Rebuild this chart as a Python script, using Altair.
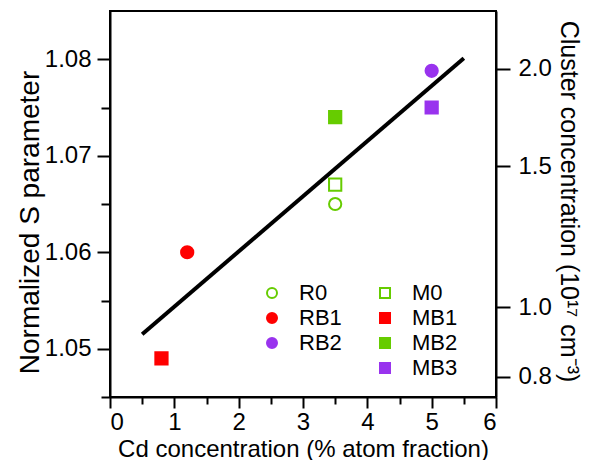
import altair as alt
import pandas as pd

# ---- data ----
series = ["R0", "RB1", "RB2", "M0", "MB1", "MB2", "MB3"]
cd = [3.5, 1.2, 5.0, 3.5, 0.8, 3.5, 5.0]
s_param = [1.065, 1.060, 1.0788, 1.067, 1.049, 1.074, 1.075]

fit_x = [0.5, 5.5]
fit_s = [1.0515, 1.0801]

x_major = [0, 1, 2, 3, 4, 5, 6]
x_minor = [0.5, 1.5, 2.5, 3.5, 4.5, 5.5]
y_major = [1.05, 1.06, 1.07, 1.08]
y_minor = [1.045, 1.055, 1.065, 1.075]

# right axis (cluster concentration) tick positions on the S scale and labels
right_pos = [1.07903, 1.06892, 1.05432, 1.04711]
right_lab = ["2.0", "1.5", "1.0", "0.8"]

# legend order (column-major in 2 columns; blank entry pushes MB3 to row 4 of column 2)
leg_domain = ["R0", "RB1", "RB2", " ", "M0", "MB1", "MB2", "MB3"]
GREEN, RED, PURPLE = "#66cc00", "#ff0000", "#9933ee"
leg_fill = ["white", RED, PURPLE, "transparent", "white", RED, GREEN, PURPLE]
leg_stroke = [GREEN, RED, PURPLE, "transparent", GREEN, RED, GREEN, PURPLE]
leg_shape = ["circle", "circle", "circle", "circle", "square", "square", "square", "square"]

pts = pd.DataFrame({"series": series, "cd": cd, "s": s_param})
fit = pd.DataFrame({"cd": fit_x, "s": fit_s})

XD = [0, 6]
YD = [1.045, 1.085]
xs = alt.Scale(domain=XD, nice=False, zero=False)
ys = alt.Scale(domain=YD, nice=False, zero=False)

label_expr = " : ".join(
    f"format(datum.value, '.5f') == '{p:.5f}' ? '{l}'" for p, l in zip(right_pos, right_lab)
) + " : ''"

legend = alt.Legend(
    title=None, orient="none", legendX=151, legendY=271, columns=2,
    labelFontSize=22, symbolSize=100, symbolStrokeWidth=2,
    labelOffset=16, columnPadding=32, rowPadding=3,
)

line = alt.Chart(fit).mark_line(color="black", strokeWidth=4).encode(
    x=alt.X("cd:Q", scale=xs, axis=alt.Axis(
        values=x_major, title="Cd concentration (% atom fraction)", format="d",
        tickSize=11, labelPadding=2, titleFontSize=24, titleX=193, titleY=52,
        titleBaseline="middle", titleAlign="center")),
    y=alt.Y("s:Q", scale=ys, axis=alt.Axis(
        values=y_major, format=".2f", title="Normalized S parameter", orient="left",
        tickSize=13, labelPadding=6, titleFontSize=28, titleX=-80, titleY=211,
        titleBaseline="middle", titleAlign="center", titleAngle=-90)),
)

points = alt.Chart(pts).mark_point(size=150, strokeWidth=2, opacity=1).encode(
    x=alt.X("cd:Q", scale=xs, axis=alt.Axis(
        orient="bottom", values=x_minor, labels=False, domain=False, tickSize=7, title=None)),
    y=alt.Y("s:Q", scale=ys, axis=alt.Axis(
        orient="right", values=right_pos, labelExpr=label_expr, tickSize=14, labelPadding=8,
        title="Cluster concentration (10¹⁷ cm⁻³)", titleFontSize=25, titleX=72, titleY=190,
        titleBaseline="middle", titleAlign="center", titleAngle=90)),
    fill=alt.Fill("series:N", scale=alt.Scale(domain=leg_domain, range=leg_fill), legend=legend),
    stroke=alt.Stroke("series:N", scale=alt.Scale(domain=leg_domain, range=leg_stroke), legend=legend),
    shape=alt.Shape("series:N", scale=alt.Scale(domain=leg_domain, range=leg_shape), legend=legend),
)

minor_y = alt.Chart(pts).mark_point(opacity=0).encode(
    x=alt.X("cd:Q", scale=xs, axis=None),
    y=alt.Y("s:Q", scale=ys, axis=alt.Axis(
        orient="left", values=y_minor, labels=False, domain=False, tickSize=9, title=None)),
)

chart = alt.layer(line, points, minor_y).resolve_axis(
    x="independent", y="independent"
).properties(
    width=386, height=386,
    autosize=alt.AutoSizeParams(type="none"),
    padding={"left": 102, "top": 3, "right": 95, "bottom": 63},
).configure(
    font="Liberation Sans",
).configure_view(
    stroke="black", strokeWidth=2,
).configure_axis(
    domainColor="black", domainWidth=2, tickColor="black", tickWidth=2,
    labelFontSize=24, labelColor="black", titleColor="black", titleFontWeight="normal",
    grid=False, labelFont="Liberation Sans", titleFont="Liberation Sans",
).configure_legend(
    labelColor="black", labelFont="Liberation Sans",
)

chart.save("out.html", embed_options={"renderer": "svg", "actions": False})
